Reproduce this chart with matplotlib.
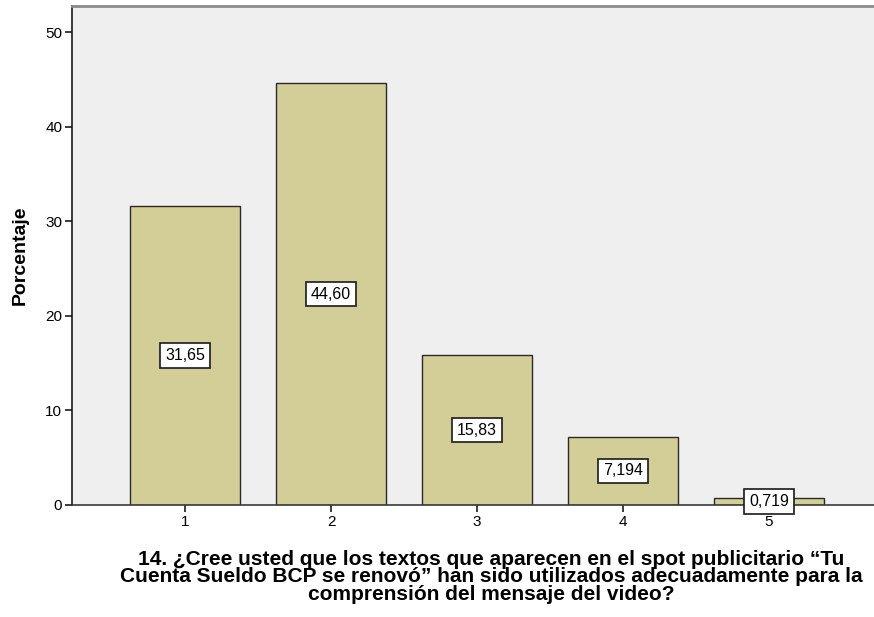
import matplotlib
matplotlib.use("Agg")
import matplotlib.pyplot as plt

categories = [1, 2, 3, 4, 5]
percentages = [31.65, 44.60, 15.83, 7.194, 0.719]
value_labels = ["31,65", "44,60", "15,83", "7,194", "0,719"]
y_ticks = [0, 10, 20, 30, 40, 50]
x_title = ('14. ¿Cree usted que los textos que aparecen en el spot publicitario \u201cTu\n'
           'Cuenta Sueldo BCP se renov\u00f3\u201d han sido utilizados adecuadamente para la\n'
           'comprensi\u00f3n del mensaje del video?')

plt.rcParams['font.family'] = ['Liberation Sans', 'DejaVu Sans']

fig = plt.figure(figsize=(8.74, 6.17), dpi=100)
fig.patch.set_facecolor('white')
ax = fig.add_axes([72 / 874, 1 - 505 / 617, 1 - 72 / 874, (505 - 6) / 617])
ax.set_facecolor('#EFEFEF')

ax.bar(categories, percentages, width=0.753, color='#D3CE97',
       edgecolor='#2A2A2A', linewidth=1.0, zorder=2)

for x, v, lab in zip(categories, percentages, value_labels):
    ax.text(x, v / 2, lab, ha='center', va='center', fontsize=11.5, zorder=4,
            bbox=dict(boxstyle='square,pad=0.3', facecolor='white',
                      edgecolor='#1A1A1A', linewidth=1.2))

ax.set_xlim(0.226, 5.719)
ax.set_ylim(0, 52.75)
ax.set_xticks(categories)
ax.set_xticklabels([str(c) for c in categories])
ax.set_yticks(y_ticks)
ax.tick_params(axis='both', direction='out', length=5, width=1.2,
               color='#1A1A1A', labelsize=11, pad=2)

ax.spines['right'].set_visible(False)
ax.spines['top'].set_color('#8A8A8A')
ax.spines['top'].set_linewidth(2.0)
ax.spines['left'].set_color('#1A1A1A')
ax.spines['left'].set_linewidth(1.2)
ax.spines['bottom'].set_color('#3A3A3A')
ax.spines['bottom'].set_linewidth(1.2)

fig.text(20 / 874, 1 - 255 / 617, 'Porcentaje', rotation=90, ha='center',
         va='center', fontsize=14, fontweight='bold')
fig.text(491 / 874, 1 - 550 / 617, x_title, ha='center', va='top',
         multialignment='center', fontsize=15, fontweight='bold',
         linespacing=0.9)

fig.savefig('out.png', dpi=100, facecolor='white')
